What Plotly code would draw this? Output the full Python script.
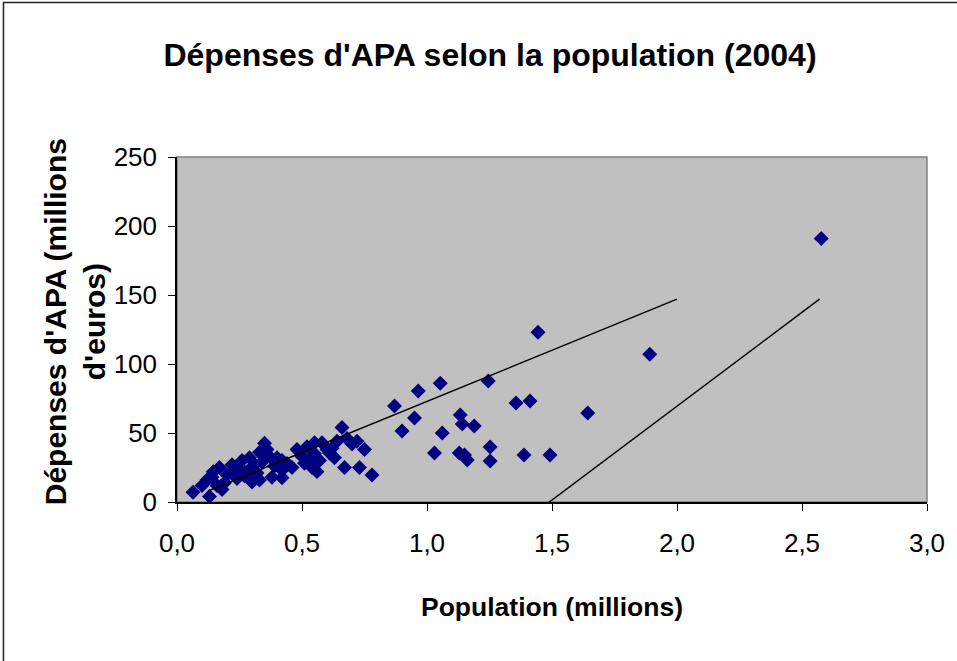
import plotly.graph_objects as go

# Population (millions) and APA spending (millions of euros)
population = [
    0.064, 0.13, 0.12, 0.145, 0.17, 0.18, 0.16, 0.20, 0.22, 0.24, 0.26, 0.28, 0.29, 0.30,
    0.33, 0.33, 0.35, 0.37, 0.38, 0.40, 0.42, 0.42, 0.42, 0.46, 0.48, 0.51, 0.52, 0.53,
    0.54, 0.55, 0.56, 0.58, 0.61, 0.62, 0.63, 0.66, 0.68, 0.67, 0.72, 0.73, 0.75, 0.78,
    0.10, 0.14, 0.19, 0.23, 0.25, 0.27, 0.31, 0.32, 0.34, 0.36, 0.39, 0.44, 0.50, 0.55,
    0.57, 0.60, 0.64, 0.70,
    0.87, 0.90, 0.95, 0.965, 1.03, 1.053, 1.061, 1.129, 1.133, 1.141, 1.161, 1.15, 1.189,
    1.245, 1.2525, 1.2525, 1.356, 1.412, 1.388, 1.492, 1.444, 1.643, 1.891, 2.577,
]
depenses = [
    7, 4, 16, 22, 25, 9, 12, 19.5, 27, 17, 30, 22, 32, 14.5,
    36, 16, 42.5, 33, 18, 32, 23, 30, 17.5, 25, 38, 28, 40, 30.5,
    25, 43, 22, 43, 35.5, 39, 32, 54, 46, 25, 44, 25, 38, 19.5,
    12, 18, 14, 23, 25, 19, 27, 21, 29, 38, 26, 28, 33, 35,
    30, 38, 44, 42,
    69.6, 51.4, 60.9, 80.4, 35.5, 86, 50, 35.5, 63, 56.5, 30.4, 34, 55,
    87.7, 39.9, 29.7, 71.7, 73.2, 34, 34, 123, 64.5, 107, 191,
]

# Hand-drawn trend lines (endpoints)
line1_x = [0.124, 2.0]
line1_y = [8, 147]
line2_x = [1.416, 2.57]
line2_y = [-10, 147]

x_ticks = [0, 0.5, 1.0, 1.5, 2.0, 2.5, 3.0]
y_ticks = [0, 50, 100, 150, 200, 250]

REG = "Liberation Sans, Arial, sans-serif"

fig = go.Figure()
fig.add_trace(go.Scatter(x=population, y=depenses, mode="markers",
                         marker=dict(symbol="diamond", color="#000080", size=11.5,
                                     line=dict(width=0)),
                         showlegend=False, hoverinfo="x+y"))
fig.add_trace(go.Scatter(x=line1_x, y=line1_y, mode="lines",
                         line=dict(color="black", width=1.5), showlegend=False))
fig.add_trace(go.Scatter(x=line2_x, y=line2_y, mode="lines",
                         line=dict(color="black", width=1.5), showlegend=False))

fig.update_layout(
    width=957, height=661,
    margin=dict(l=177, r=28, t=157, b=159),
    paper_bgcolor="white",
    plot_bgcolor="#C0C0C0",
    separators=", ",
    title=dict(text="<b>Dépenses d'APA selon la population (2004)</b>",
               x=490 / 957, xref="container", xanchor="center",
               y=1 - 55 / 661, yref="container", yanchor="middle",
               font=dict(family=REG, size=32, color="black")),
    xaxis=dict(range=[0, 3], tickvals=x_ticks, tickformat=".1f",
               showgrid=False, zeroline=False, showline=True, linecolor="black",
               linewidth=1.5, ticks="outside", ticklen=7, tickcolor="black",
               ticklabelstandoff=10,
               tickfont=dict(family=REG, size=26, color="black")),
    yaxis=dict(range=[0, 250], tickvals=y_ticks,
               showgrid=False, zeroline=False, showline=True, linecolor="black",
               linewidth=1.5, ticks="outside", ticklen=7, tickcolor="black",
               ticklabelstandoff=6,
               tickfont=dict(family=REG, size=26, color="black")),
    shapes=[
        dict(type="rect", xref="x domain", yref="y domain", x0=0, x1=1, y0=0, y1=1,
             line=dict(color="#808080", width=1.5), layer="below"),
        dict(type="rect", xref="paper", yref="paper",
             x0=(3 - 177) / 752, x1=(965 - 177) / 752,
             y0=(502 - 670) / 345, y1=(502 - 2.5) / 345,
             line=dict(color="#222222", width=1.5)),
    ],
    annotations=[
        dict(text="<b>Population (millions)</b>", xref="paper", yref="paper",
             x=(553 - 177) / 752, y=(502 - 607) / 345, showarrow=False,
             xanchor="center", yanchor="middle",
             font=dict(family=REG, size=26.5, color="black")),
        dict(text="<b>Dépenses d'APA (millions<br>d'euros)</b>", xref="paper", yref="paper",
             x=(75 - 177) / 752, y=(502 - 322) / 345, showarrow=False, textangle=-90,
             xanchor="center", yanchor="middle", align="center",
             font=dict(family=REG, size=30, color="black")),
    ],
)

fig.write_html("out.html", config={"displayModeBar": False},
               post_script="document.body.style.margin='0';")
